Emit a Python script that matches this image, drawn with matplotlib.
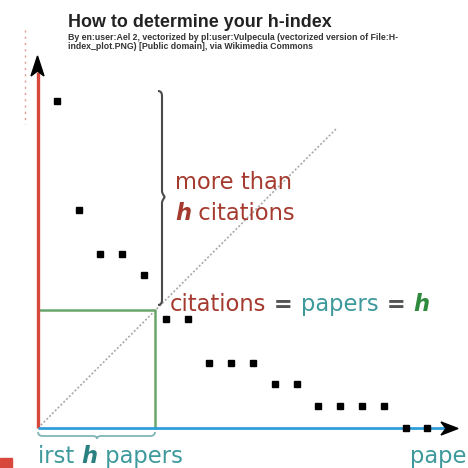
import matplotlib
matplotlib.use("Agg")
import matplotlib.pyplot as plt
from matplotlib.path import Path
from matplotlib.patches import PathPatch, Polygon, Rectangle

# ---------------- data ----------------
papers = list(range(1, 19))
citations = [15, 10, 8, 8, 7, 5, 5, 3, 3, 3, 2, 2, 1, 1, 1, 1, 0, 0]
h_index = 5
title = "How to determine your h-index"
credit1 = "By en:user:Ael 2, vectorized by pl:user:Vulpecula (vectorized version of File:H-"
credit2 = "index_plot.PNG) [Public domain], via Wikimedia Commons"

# ---------------- colours ----------------
RED = "#d8473b"
DARKRED = "#a53a2f"
BLUE = "#2f9fdc"
GREEN = "#6aa56c"
TEAL = "#3d999b"
DKGREEN = "#2e8b3e"
GRAY = "#555555"

W = H = 468
U = 21.8          # pixels per unit
OX, OY = 35, 428  # pixel position of data origin

fig = plt.figure(figsize=(4.68, 4.68), dpi=100)
ax = fig.add_axes([0, 0, 1, 1])
ax.set_xlim(-OX / U, (W - OX) / U)
ax.set_ylim(-(H - OY) / U, OY / U)
ax.axis("off")

def px(x, y):
    """pixel (from top-left) -> data"""
    return (x - OX) / U, (OY - y) / U

x0 = px(38, 0)[0]
hx = h_index + 0.5
hy = h_index + 0.4

# diagonal
ax.plot([x0, 13.85], [0, 13.76], color="#a8a8a8", lw=1.2, ls=(0, (1.2, 1.2)), zorder=1)

# green h box
ax.plot([x0, hx, hx], [hy, hy, 0], color=GREEN, lw=1.8, zorder=2)

# axes lines
ax.plot([x0, x0], [0, px(0, 72)[1]], color=RED, lw=2.4, zorder=3, solid_capstyle="butt")
ax.plot([x0, px(448, 0)[0]], [0, 0], color=BLUE, lw=2.0, zorder=3, solid_capstyle="butt")

def arrow(tip, back_l, notch, back_r):
    ax.add_patch(Polygon([px(*tip), px(*back_l), px(*notch), px(*back_r)],
                         closed=True, color="black", zorder=5))

arrow((37.5, 56), (31, 76), (37.5, 71), (44, 76))
arrow((458, 428.5), (441, 422), (446, 428.5), (441, 435))

# faint dotted red line at far left & red block
ax.plot([px(25, 0)[0]] * 2, [px(0, 30)[1], px(0, 124)[1]], color="#e39a90",
        lw=1.0, ls=(0, (1.5, 3)), zorder=1)
bl = px(0, 468)
ax.add_patch(Rectangle(bl, 12 / U, 10 / U, color=RED, zorder=2))

# data points
ax.plot(papers, citations, ls="none", marker="s", ms=4.2, color="black", zorder=6)

# vertical brace (right side of top papers)
def vbrace(xp, ytop, ybot, ymid, d):
    pts = [(xp - 4, ytop), (xp, ytop), (xp, ytop + 5), (xp, ymid - d * 0.3),
           (xp, ymid - 3), (xp + 3, ymid), (xp + 3, ymid),
           (xp + 3, ymid), (xp, ymid + 3), (xp, ymid + d * 0.3),
           (xp, ybot - 5), (xp, ybot), (xp - 4, ybot)]
    verts = [px(*p) for p in pts]
    codes = [Path.MOVETO, Path.CURVE3, Path.CURVE3, Path.LINETO,
             Path.CURVE3, Path.CURVE3, Path.LINETO,
             Path.MOVETO, Path.CURVE3, Path.CURVE3,
             Path.LINETO, Path.CURVE3, Path.CURVE3]
    ax.add_patch(PathPatch(Path(verts, codes), fill=False, lw=1.5,
                           edgecolor="#4a4a4a", zorder=4))

vbrace(162, 91, 305, 197, 20)

# horizontal brace under first h papers
def hbrace(xl, xr, yp, xm):
    pts = [(xl, yp - 4), (xl, yp), (xl + 5, yp), (xm - 4, yp),
           (xm, yp), (xm, yp + 3), (xm, yp + 3),
           (xm, yp), (xm + 4, yp), (xr - 5, yp),
           (xr, yp), (xr, yp - 4)]
    verts = [px(*p) for p in pts]
    codes = [Path.MOVETO, Path.CURVE3, Path.CURVE3, Path.LINETO,
             Path.CURVE3, Path.CURVE3,
             Path.MOVETO, Path.CURVE3, Path.CURVE3, Path.LINETO,
             Path.CURVE3, Path.CURVE3]
    ax.add_patch(PathPatch(Path(verts, codes), fill=False, lw=1.3,
                           edgecolor="#7fb5b8", zorder=4))

hbrace(38, 155, 436, 97)

# ---------------- texts ----------------
fig.canvas.draw()
renderer = fig.canvas.get_renderer()

def pieces(x, y, parts, size):
    """draw consecutive text pieces starting at pixel x, baseline pixel y"""
    cur = x
    for s, color, weight, style in parts:
        t = ax.text(*px(cur, y), s, color=color, fontsize=size, fontweight=weight,
                    fontstyle=style, family="DejaVu Sans", ha="left", va="baseline",
                    zorder=7)
        bb = t.get_window_extent(renderer=renderer)
        cur += bb.width

SZ = 16.3
pieces(175, 189, [("more than", DARKRED, "normal", "normal")], SZ)
pieces(175, 220, [("h", DARKRED, "bold", "italic"), (" citations", DARKRED, "normal", "normal")], SZ)
pieces(170, 311, [("citations", DARKRED, "normal", "normal"), (" = ", GRAY, "bold", "normal"),
                  ("papers", TEAL, "normal", "normal"), (" = ", GRAY, "bold", "normal"),
                  ("h", DKGREEN, "bold", "italic")], SZ)
pieces(38, 463, [("irst ", TEAL, "normal", "normal"), ("h", "#2a8080", "bold", "italic"),
                 (" papers", TEAL, "normal", "normal")], SZ)
pieces(410, 463, [("papers", TEAL, "normal", "normal")], SZ)

fig.text(68 / W, 1 - 27 / H, title, fontsize=12.9, fontweight="bold",
         family="Liberation Sans", color="#222222", ha="left", va="baseline")
fig.text(68 / W, 1 - 40 / H, credit1, fontsize=6.3, fontweight="bold",
         family="Liberation Sans", color="#333333", ha="left", va="baseline")
fig.text(68 / W, 1 - 49 / H, credit2, fontsize=6.3, fontweight="bold",
         family="Liberation Sans", color="#333333", ha="left", va="baseline")

fig.savefig("out.png", dpi=100)
